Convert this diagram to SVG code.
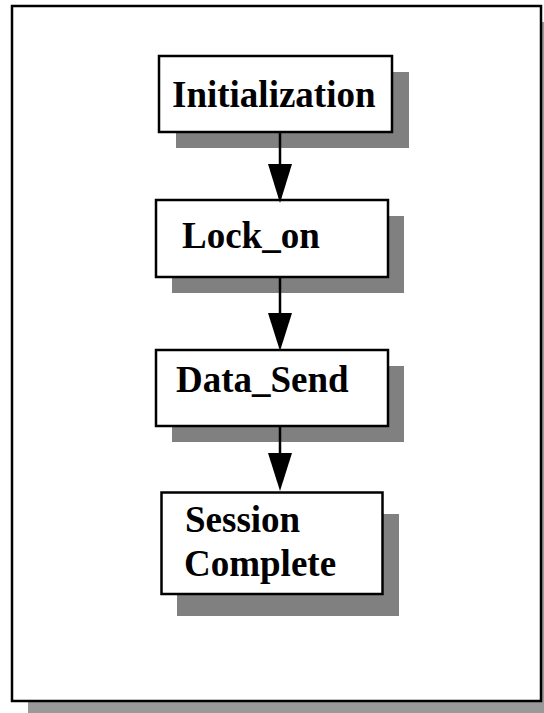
<svg xmlns="http://www.w3.org/2000/svg" width="544" height="713" viewBox="0 0 544 713">
<style>
.frame{fill:#fff;stroke:#000;stroke-width:2.5}
.fshadow{fill:#999}
.shadow{fill:#808080}
.box{fill:#fff;stroke:#000;stroke-width:2.5}
.lbl{font-family:"Liberation Serif","Times New Roman",serif;font-weight:bold;font-size:37px;fill:#000}
.conn line{stroke:#000;stroke-width:2.5}
.conn polygon{fill:#000}
</style>
<rect width="544" height="713" fill="#fff"/>
<g id="frame">
<rect class="fshadow" x="28" y="22" width="529" height="695"/>
<rect class="frame" x="12" y="6" width="529" height="695"/>
</g>
<g id="node-initialization">
<rect class="shadow" x="176" y="72" width="233" height="76"/>
<rect class="box" x="159" y="56" width="233" height="76"/>
<text class="lbl" x="172" y="107">Initialization</text>
</g>
<g id="node-lock_on">
<rect class="shadow" x="172" y="216" width="232" height="77"/>
<rect class="box" x="156" y="200" width="232" height="77"/>
<text class="lbl" x="182" y="248">Lock_on</text>
</g>
<g id="node-data_send">
<rect class="shadow" x="172" y="366" width="232" height="76"/>
<rect class="box" x="156" y="350" width="232" height="76"/>
<text class="lbl" x="176" y="392">Data_Send</text>
</g>
<g id="node-session_complete">
<rect class="shadow" x="177" y="514" width="222" height="102"/>
<rect class="box" x="161.5" y="492.5" width="221" height="101.5"/>
<text class="lbl" x="185" y="532">Session</text>
<text class="lbl" x="184" y="576">Complete</text>
</g>
<g id="connectors" class="conn">
<line x1="280" y1="132" x2="280" y2="166"/>
<polygon points="268,164 292,164 280,203"/>
<line x1="280" y1="277" x2="280" y2="314"/>
<polygon points="268,313 292,313 280,351"/>
<line x1="280" y1="426" x2="280" y2="454"/>
<polygon points="268,453 292,453 280,491"/>
</g>
</svg>
